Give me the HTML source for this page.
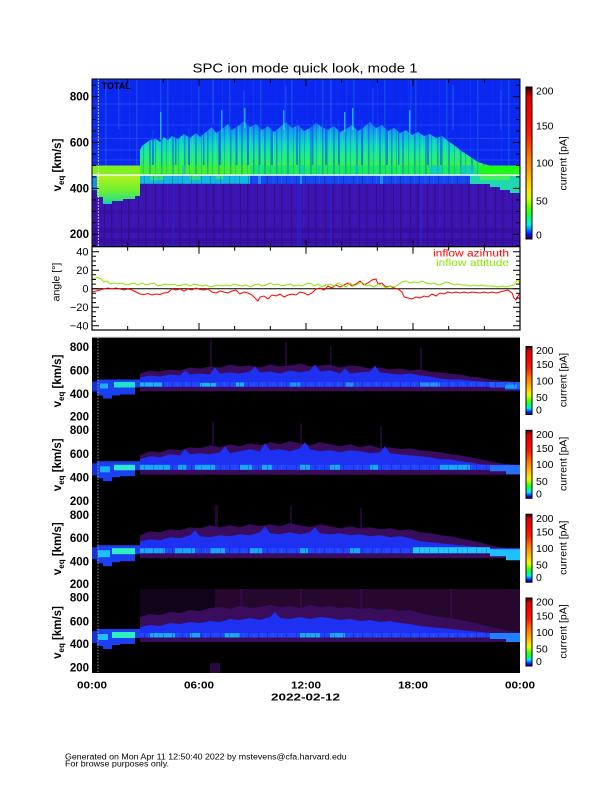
<!DOCTYPE html>
<html><head><meta charset="utf-8">
<style>
html,body{margin:0;padding:0;background:#fff;}
svg{display:block;}
text{font-family:"Liberation Sans",Arial,sans-serif;}
</style></head><body>
<svg width="612" height="792" viewBox="0 0 612 792" xmlns="http://www.w3.org/2000/svg">
<defs>
<linearGradient id="cb" x1="0" y1="1" x2="0" y2="0">
 <stop offset="0" stop-color="#000"/>
 <stop offset="0.012" stop-color="#30009a"/>
 <stop offset="0.03" stop-color="#0010ff"/>
 <stop offset="0.065" stop-color="#0090ff"/>
 <stop offset="0.095" stop-color="#00f0f0"/>
 <stop offset="0.14" stop-color="#00ff70"/>
 <stop offset="0.2" stop-color="#50ff00"/>
 <stop offset="0.27" stop-color="#d8ff00"/>
 <stop offset="0.33" stop-color="#ffe000"/>
 <stop offset="0.45" stop-color="#ffa000"/>
 <stop offset="0.55" stop-color="#ff7000"/>
 <stop offset="0.68" stop-color="#ff2000"/>
 <stop offset="0.8" stop-color="#ff0000"/>
 <stop offset="0.93" stop-color="#e00000"/>
 <stop offset="0.98" stop-color="#700000"/>
 <stop offset="1" stop-color="#000"/>
</linearGradient>
<linearGradient id="mid" gradientUnits="userSpaceOnUse" x1="0" y1="118" x2="0" y2="166">
 <stop offset="0" stop-color="#1868f0"/>
 <stop offset="0.3" stop-color="#10a8e8"/>
 <stop offset="0.55" stop-color="#10d8c0"/>
 <stop offset="0.8" stop-color="#20ee80"/>
 <stop offset="1" stop-color="#30f050"/>
</linearGradient>
<linearGradient id="lowleft" gradientUnits="userSpaceOnUse" x1="0" y1="175" x2="0" y2="205">
 <stop offset="0" stop-color="#b8f020"/>
 <stop offset="0.5" stop-color="#70f030"/>
 <stop offset="0.85" stop-color="#30e080"/>
 <stop offset="1" stop-color="#10c0e0"/>
</linearGradient>
<pattern id="st1" patternUnits="userSpaceOnUse" x="0" y="0" width="23" height="10">
 <rect x="0" y="0" width="1.5" height="10" fill="#1040f0" opacity="0.45"/>
 <rect x="5" y="0" width="1" height="10" fill="#1040f0" opacity="0.3"/>
 <rect x="8" y="0" width="1" height="10" fill="#40f0b0" opacity="0.35"/>
 <rect x="11" y="0" width="2" height="10" fill="#1040f0" opacity="0.4"/>
 <rect x="17" y="0" width="1" height="10" fill="#1040f0" opacity="0.3"/>
 <rect x="20" y="0" width="1" height="10" fill="#40f0b0" opacity="0.3"/>
</pattern>
<pattern id="st2" patternUnits="userSpaceOnUse" x="3" y="0" width="31" height="10">
 <rect x="2" y="0" width="1" height="10" fill="#2060ff" opacity="0.35"/>
 <rect x="9" y="0" width="1.5" height="10" fill="#50ffa0" opacity="0.25"/>
 <rect x="15" y="0" width="1" height="10" fill="#1030e0" opacity="0.4"/>
 <rect x="24" y="0" width="2" height="10" fill="#1040f0" opacity="0.3"/>
</pattern>
<pattern id="st3" patternUnits="userSpaceOnUse" x="0" y="0" width="19" height="10">
 <rect x="1" y="0" width="1" height="10" fill="#000" opacity="0.35"/>
 <rect x="6" y="0" width="1.5" height="10" fill="#4060ff" opacity="0.3"/>
 <rect x="11" y="0" width="1" height="10" fill="#000" opacity="0.3"/>
 <rect x="15" y="0" width="1" height="10" fill="#30a0ff" opacity="0.3"/>
</pattern>
<pattern id="st4" patternUnits="userSpaceOnUse" x="0" y="0" width="17" height="10">
 <rect x="2" y="0" width="1" height="10" fill="#2a0a50" opacity="0.5"/>
 <rect x="9" y="0" width="1.5" height="10" fill="#2a0a50" opacity="0.4"/>
 <rect x="14" y="0" width="1" height="10" fill="#5020a0" opacity="0.3"/>
</pattern>
<clipPath id="ctop"><rect x="92" y="79" width="428" height="167.7"/></clipPath>
<clipPath id="cbot"><rect x="92" y="337.5" width="428" height="335.5"/></clipPath>
</defs>

<!-- Title -->
<text x="305" y="72.7" font-size="12.5" text-anchor="middle" textLength="225" lengthAdjust="spacingAndGlyphs">SPC ion mode quick look, mode 1</text>

<!-- ===== TOP PANEL ===== -->
<g clip-path="url(#ctop)">
 <rect x="92" y="79" width="428" height="168" fill="#3c14b4"/>
 <rect x="92" y="184" width="428" height="63" fill="url(#st4)"/>
 <rect x="92" y="228" width="428" height="5" fill="#320c98" opacity="0.6"/>
 <rect x="92" y="238" width="428" height="5" fill="#320c98" opacity="0.6"/>
 <rect x="92" y="210" width="428" height="4" fill="#340e9e" opacity="0.5"/>
 <rect x="92" y="79" width="428" height="104.8" fill="#0a28f0"/>
 <rect x="92" y="79" width="428" height="104.8" fill="url(#st2)" opacity="0.6"/>
 <g fill="#2a60ff" opacity="0.45">
  <rect x="118" y="79" width="1.5" height="50"/><rect x="160" y="79" width="1.5" height="60"/>
  <rect x="212" y="79" width="2" height="45"/><rect x="243" y="90" width="1.5" height="40"/>
  <rect x="285" y="85" width="1.5" height="45"/><rect x="330" y="79" width="2" height="50"/>
  <rect x="372" y="88" width="1.5" height="40"/><rect x="410" y="80" width="1.5" height="50"/>
  <rect x="452" y="85" width="2" height="45"/><rect x="500" y="90" width="1.5" height="40"/>
 </g>
 <g stroke="#4a7cff" stroke-width="0.8" opacity="0.45">
  <line x1="92" y1="104" x2="520" y2="104"/><line x1="92" y1="125" x2="520" y2="125"/>
  <line x1="92" y1="138.3" x2="520" y2="138.3"/><line x1="92" y1="150" x2="520" y2="150"/>
  <line x1="92" y1="160" x2="520" y2="160"/>
 </g>
 <polygon fill="url(#mid)" points="140,150 142,146 146,143 150,140 156,139 160,142 164,137 168,140 172,136 178,139 184,134 190,138 196,133 200,137 206,132 212,127 216,133 222,129 228,124 232,130 238,126 244,121 250,127 256,124 262,130 268,126 274,132 280,127 286,122 292,128 298,125 304,131 310,128 316,123 322,127 328,130 334,126 340,132 346,129 352,125 358,131 364,127 370,122 376,128 382,125 388,131 394,128 400,133 406,130 412,135 418,132 424,136 430,134 436,138 442,136 448,141 454,145 460,150 466,154 472,158 478,162 484,164 490,165.5 140,165.5"/>
 <polygon fill="url(#st1)" points="140,150 142,146 146,143 150,140 156,139 160,142 164,137 168,140 172,136 178,139 184,134 190,138 196,133 200,137 206,132 212,127 216,133 222,129 228,124 232,130 238,126 244,121 250,127 256,124 262,130 268,126 274,132 280,127 286,122 292,128 298,125 304,131 310,128 316,123 322,127 328,130 334,126 340,132 346,129 352,125 358,131 364,127 370,122 376,128 382,125 388,131 394,128 400,133 406,130 412,135 418,132 424,136 430,134 436,138 442,136 448,141 454,145 460,150 466,154 472,158 478,162 484,164 490,165.5 140,165.5"/>
 <g fill="#1040f0" opacity="0.55">
  <rect x="152" y="130" width="2" height="35"/><rect x="175" y="130" width="1.5" height="35"/>
  <rect x="188" y="128" width="2" height="37"/><rect x="203" y="125" width="1.5" height="40"/>
  <rect x="219" y="120" width="2" height="45"/><rect x="236" y="120" width="1.5" height="45"/>
  <rect x="247" y="120" width="2" height="45"/><rect x="259" y="120" width="1.5" height="45"/>
  <rect x="271" y="122" width="2" height="43"/><rect x="296" y="120" width="2" height="45"/>
  <rect x="312" y="120" width="1.5" height="45"/><rect x="325" y="120" width="2" height="45"/>
  <rect x="338" y="120" width="1.5" height="45"/><rect x="361" y="120" width="2" height="45"/>
  <rect x="386" y="124" width="2" height="41"/><rect x="398" y="126" width="1.5" height="39"/>
  <rect x="427" y="130" width="2" height="35"/><rect x="440" y="133" width="2" height="32"/>
 </g>
 <g fill="#30d8f0" opacity="0.7">
  <rect x="160" y="112" width="1.5" height="28"/><rect x="221" y="110" width="1.5" height="22"/>
  <rect x="244" y="108" width="1.5" height="20"/><rect x="283" y="110" width="1.5" height="20"/>
  <rect x="344" y="112" width="1.5" height="20"/><rect x="352" y="108" width="1.5" height="22"/>
  <rect x="409" y="110" width="1.5" height="25"/>
 </g>
 <rect x="92" y="165.5" width="48" height="9.6" fill="#80f020"/>
 <rect x="140" y="165.5" width="110" height="9.6" fill="#40f030"/>
 <rect x="250" y="165.5" width="230" height="9.6" fill="#18e860"/>
 <rect x="480" y="165.5" width="40" height="9.6" fill="#20f818"/>
 <rect x="140" y="165.5" width="340" height="9.6" fill="url(#st1)" opacity="0.7"/>
 <g fill="#10c0e8" opacity="0.6">
  <rect x="182" y="165.5" width="3" height="9.6"/><rect x="258" y="165.5" width="2" height="9.6"/>
  <rect x="301" y="165.5" width="3" height="9.6"/><rect x="318" y="165.5" width="2" height="9.6"/>
  <rect x="355" y="165.5" width="3" height="9.6"/><rect x="430" y="165.5" width="12" height="9.6"/>
  <rect x="460" y="165.5" width="14" height="9.6"/>
 </g>
 <rect x="92" y="175.1" width="5" height="15" fill="#1890f0"/>
 <polygon fill="url(#lowleft)" points="97,175.1 140,175.1 140,196 135,196 135,199 123,199 123,201 112,201 112,204 103,204 103,197 97,197"/>
 <rect x="140" y="175.1" width="110" height="8.7" fill="#10b8e0"/>
 <g fill="#40e860" opacity="0.7"><rect x="150" y="175.1" width="14" height="5"/><rect x="190" y="175.1" width="10" height="5"/><rect x="215" y="175.1" width="8" height="4"/></g>
 <rect x="250" y="175.1" width="230" height="8.7" fill="#1448f0"/>
 <rect x="140" y="175.1" width="340" height="8.7" fill="url(#st3)" opacity="0.6"/>
 <g fill="#20b0f0" opacity="0.7"><rect x="258" y="175.1" width="3" height="8.7"/><rect x="300" y="175.1" width="2" height="8.7"/><rect x="380" y="175.1" width="3" height="8.7"/></g>
 <polygon fill="#20d8b0" points="470,175.1 520,175.1 520,193 510,193 510,190 500,190 500,187 490,187 490,184 470,184"/>
 <rect x="480" y="175.1" width="30" height="5" fill="#40f060"/>
 <g fill="#2030e0" opacity="0.45">
  <rect x="297" y="184" width="4" height="63"/><rect x="330" y="184" width="2" height="63"/>
  <rect x="172" y="184" width="2" height="63"/><rect x="420" y="184" width="2" height="63"/>
 </g>
 <line x1="92" y1="175.1" x2="520" y2="175.1" stroke="#fff" stroke-width="1.4"/>
 <line x1="98.3" y1="79" x2="98.3" y2="247" stroke="#fff" stroke-width="0.8" stroke-dasharray="2,1" opacity="0.85"/>
 <text x="101.7" y="89" font-size="9.5" font-weight="bold" fill="#000" textLength="29" lengthAdjust="spacingAndGlyphs">TOTAL</text>
</g>
<rect x="92" y="79" width="428" height="167.7" fill="none" stroke="#000" stroke-width="1"/>
<g stroke="#000" stroke-width="1" fill="none">
 <path d="M92 234.3h7M92 188.4h7M92 142.5h7M92 96.6h7M520 234.3h-7M520 188.4h-7M520 142.5h-7M520 96.6h-7"/>
 <path d="M92 245.8h4M92 222.8h4M92 211.35h4M92 199.9h4M92 176.9h4M92 165.45h4M92 154h4M92 131h4M92 119.55h4M92 108.1h4M92 85.1h4M520 245.8h-4M520 222.8h-4M520 211.35h-4M520 199.9h-4M520 176.9h-4M520 165.45h-4M520 154h-4M520 131h-4M520 119.55h-4M520 108.1h-4M520 85.1h-4"/>
 <path d="M199 79v7M306 79v7M413 79v7M127.67 79v4M163.33 79v4M234.67 79v4M270.33 79v4M341.67 79v4M377.33 79v4M448.67 79v4M484.33 79v4"/>
 <path d="M199 246.7v-7M306 246.7v-7M413 246.7v-7M127.67 246.7v-4M163.33 246.7v-4M234.67 246.7v-4M270.33 246.7v-4M341.67 246.7v-4M377.33 246.7v-4M448.67 246.7v-4M484.33 246.7v-4"/>
</g>
<g font-size="11.5" font-weight="bold" text-anchor="end">
 <text x="89" y="100.4">800</text><text x="89" y="146.4">600</text><text x="89" y="192.3">400</text><text x="89" y="238.2">200</text>
</g>
<text transform="translate(61,165) rotate(-90)" font-size="11.5" font-weight="bold" text-anchor="middle">v<tspan font-size="8" dy="3">eq</tspan><tspan dy="-3"> [km/s]</tspan></text>
<rect x="526" y="87" width="6" height="152" fill="url(#cb)" stroke="#000" stroke-width="1"/>
<g font-size="10.5">
 <text x="536" y="94.3">200</text><text x="536" y="129.3">150</text><text x="536" y="166.7">100</text><text x="536" y="204.3">50</text><text x="536" y="238.3">0</text>
</g>
<text transform="translate(566.7,163.3) rotate(-90)" font-size="10.5" text-anchor="middle">current [pA]</text>

<!-- ===== ANGLE PANEL ===== -->
<rect x="92" y="246.7" width="428" height="83.3" fill="#fff"/>
<line x1="92" y1="288.7" x2="520" y2="288.7" stroke="#000" stroke-width="1"/>
<polyline fill="none" stroke="#ff0000" stroke-width="1" points="92,292 96,291 100,290 104,289 108,288 112,289 116,288 120,289 124,290 128,289 132,290 136,292 140,294 144,294.5 148,293.5 152,295 156,294 160,294.5 164,293 168,292.5 172,289 176,290 180,289 184,291 188,289 192,290 196,288 200,289.5 204,290 208,289 212,292 216,293 220,291 224,292 228,293 232,291 236,290 240,294 244,292 248,293 252,295 256,299 258,301 260,297 264,296 268,299 272,295 276,296 280,294 284,297 288,295 292,294 296,295 300,292 304,293 308,295 312,293 316,289 320,288 324,290 328,286 332,288 336,285 340,287 344,285 348,283 352,286 356,284 360,281 364,285 368,283 372,280 376,279 378,284 382,283 386,287 390,286 394,288 398,289 402,292 404,297 408,298 412,299 416,297 420,298 424,296 428,297 432,294 436,296 440,293 444,294 448,292 452,293 456,292 460,293 464,292 468,293 472,292 476,292.5 480,293 484,292 488,293 492,292 496,293 500,292 504,291 508,290 512,293 514,298 516,300 518,296 520,293"/>
<polyline fill="none" stroke="#88e800" stroke-width="1" points="92,279 95,278 98,277.5 101,279 104,282 107,281 110,284 114,283 118,284 122,283 126,285 130,284 134,283 138,285 142,283 146,285 150,284 154,283 158,286 162,285 166,284 170,285 174,284 178,286 182,285 186,284 190,286 194,284 198,285 202,286 206,285 210,287 214,286 218,285 222,286 226,285 230,286 234,284 238,285 242,286 246,285 250,287 254,285 258,284 262,286 266,285 270,283 274,285 278,284 282,286 286,285 290,284 294,286 298,285 302,286 306,284 310,283 314,286 318,284 322,287 326,285 330,284 334,286 338,283 342,285 346,287 350,283 354,286 358,284 362,282 366,286 370,285 374,287 378,284 382,285 386,288 390,286 394,287 398,285 402,282 406,281 410,283 414,282 418,283 422,281 426,283 430,284 434,283 438,285 442,284 446,282 450,283 454,285 458,284 462,285 466,285 470,286 474,285 478,286 482,285 486,286 490,286 494,286 498,287 502,286 506,287 510,286 514,285 516,282 518,279 520,285"/>
<rect x="92" y="246.7" width="428" height="83.3" fill="none" stroke="#000" stroke-width="1.2"/>
<g stroke="#000" stroke-width="1" fill="none">
 <path d="M92 251.7h7M92 270.2h7M92 288.7h7M92 307.2h7M92 325.7h7M520 251.7h-7M520 270.2h-7M520 288.7h-7M520 307.2h-7M520 325.7h-7"/>
 <path d="M92 256.3h4M92 260.95h4M92 265.6h4M92 274.8h4M92 279.45h4M92 284.1h4M92 293.3h4M92 297.95h4M92 302.6h4M92 311.8h4M92 316.45h4M92 321.1h4M520 256.3h-4M520 260.95h-4M520 265.6h-4M520 274.8h-4M520 279.45h-4M520 284.1h-4M520 293.3h-4M520 297.95h-4M520 302.6h-4M520 311.8h-4M520 316.45h-4M520 321.1h-4"/>
 <path d="M199 330v-7M306 330v-7M413 330v-7M127.67 330v-4M163.33 330v-4M234.67 330v-4M270.33 330v-4M341.67 330v-4M377.33 330v-4M448.67 330v-4M484.33 330v-4"/>
 <path d="M199 246.7v7M306 246.7v7M413 246.7v7M127.67 246.7v4M163.33 246.7v4M234.67 246.7v4M270.33 246.7v4M341.67 246.7v4M377.33 246.7v4M448.67 246.7v4M484.33 246.7v4"/>
</g>
<g font-size="11" text-anchor="end">
 <text x="88.5" y="255.5">40</text><text x="88.5" y="274">20</text><text x="88.5" y="292.5">0</text><text x="88.5" y="311">−20</text><text x="88.5" y="329.5">−40</text>
</g>
<text transform="translate(59.5,282) rotate(-90)" font-size="10.5" text-anchor="middle">angle [°]</text>
<text x="509" y="256.7" font-size="10.5" text-anchor="end" fill="#ff0000" textLength="76" lengthAdjust="spacingAndGlyphs">inflow azimuth</text>
<text x="509" y="266" font-size="10.5" text-anchor="end" fill="#88e800" textLength="73" lengthAdjust="spacingAndGlyphs">inflow attitude</text>

<!-- ===== BOTTOM PANELS ===== -->
<g clip-path="url(#cbot)">
 <rect x="92" y="337.5" width="428" height="335.5" fill="#000"/>

 <!-- Panel 1 -->
 <g transform="translate(0,337.5)">
  <g fill="#2a0840" opacity="0.8"><rect x="210" y="2" width="2" height="28"/><rect x="285" y="5" width="2" height="25"/><rect x="330" y="8" width="1.5" height="22"/><rect x="420" y="10" width="2" height="24"/></g>
  <polygon fill="#3a0c5c" points="140,53.7 140,36 150,33 160,34 170,32 180,33 190,30 200,31 210,29 220,30 230,27 240,29 250,28 260,30 270,27 280,29 290,28 300,26 310,29 320,28 330,27 340,30 350,28 360,29 370,31 380,30 390,32 400,31 410,33 420,32 430,34 440,35 450,36 460,37 470,39 480,40 490,42 500,43 510,44 520,45 520,53.7"/>
  <polygon fill="#1e30f0" points="140,49.3 140,40 150,38 160,39 170,37 180,38 185,33 190,37 200,36 210,37 215,30 220,36 230,35 240,36 250,34 255,29 260,35 270,34 280,36 290,33 300,35 310,33 315,27 320,34 330,33 340,36 345,31 350,36 360,35 370,34 375,28 380,35 390,36 400,37 410,36 420,38 430,39 440,41 450,42 460,42 470,43 480,44 490,44.5 520,44.5 520,49.3"/>
  <rect x="140" y="44.5" width="350" height="4.8" fill="#2044ff"/>
  <polygon fill="#2258ff" points="490,44.5 520,44.5 520,52 505,52 505,50 490,50"/>
  <g fill="#18c8ff" opacity="0.85"><rect x="140" y="45" width="22" height="4"/><rect x="200" y="45.5" width="16" height="3.5"/><rect x="236" y="45" width="8" height="4"/><rect x="346" y="45" width="8" height="4" opacity="0.7"/><rect x="505" y="47" width="12" height="4" opacity="0.7"/></g>
  <g fill="#2090ff"><rect x="290" y="45" width="10" height="4"/><rect x="420" y="45" width="20" height="4"/></g>
  <rect x="140" y="44.5" width="380" height="4.8" fill="url(#st3)" opacity="0.7"/>
  <rect x="92" y="44" width="5" height="10" fill="#1530d0"/>
  <polygon fill="#1a40f0" points="97,42 140,42 140,50 135,50 135,57 120,57 120,58 112,58 112,61 103,61 103,58 97,58"/>
  <rect x="114" y="44.5" width="21" height="5.5" fill="#20e0d0"/>
  <rect x="100" y="46" width="8" height="5" fill="#20b0ff"/>
 </g>

 <!-- Panel 2 -->
 <g transform="translate(0,421.3)">
  <g fill="#2a0840" opacity="0.8"><rect x="212" y="0" width="2" height="24"/><rect x="300" y="2" width="2" height="22"/><rect x="380" y="5" width="2" height="22"/></g>
  <polygon fill="#3a0c5c" points="140,53.5 140,34 150,30 160,31 170,28 180,29 190,26 200,27 210,24 220,26 230,23 240,25 250,22 260,24 270,21 280,23 290,20 300,22 310,24 320,21 330,23 340,25 350,23 360,26 370,24 380,27 390,26 400,28 410,27 420,29 430,30 440,31 450,33 460,34 470,36 480,38 490,40 500,42 510,43 520,44 520,53.5"/>
  <polygon fill="#1e30f0" points="140,48.5 140,38 150,35 160,36 170,33 180,34 185,28 190,33 200,32 210,33 220,31 225,25 230,32 240,30 250,28 260,30 265,22 270,29 280,28 290,30 300,27 305,21 310,28 320,30 330,29 340,31 350,29 360,30 370,32 380,31 385,25 390,32 400,33 410,34 420,35 430,36 440,38 450,38 460,40 470,41 480,43 490,44 520,44 520,48.5"/>
  <rect x="140" y="43.5" width="380" height="5" fill="#2044ff"/>
  <g fill="#18c8ff" opacity="0.75"><rect x="140" y="43.5" width="30" height="5"/><rect x="178" y="43.5" width="8" height="5"/><rect x="195" y="43.5" width="20" height="5"/><rect x="240" y="43.5" width="12" height="5"/><rect x="262" y="43.5" width="10" height="5"/><rect x="300" y="43.5" width="10" height="5"/><rect x="330" y="43.5" width="10" height="5"/><rect x="370" y="43.5" width="8" height="5"/><rect x="440" y="43.5" width="30" height="5"/></g>
  <rect x="140" y="43.5" width="380" height="5" fill="url(#st3)" opacity="0.7"/>
  <polygon fill="#2a70ff" points="490,44 520,44 520,53 506,53 506,50 490,50"/>
  <rect x="92" y="42" width="5" height="12" fill="#1530d0"/>
  <polygon fill="#1a40f0" points="97,40 140,40 140,49 135,49 135,55 120,55 120,56 112,56 112,60 103,60 103,57 97,57"/>
  <rect x="114" y="43.5" width="21" height="5.5" fill="#30e8d0"/>
  <rect x="100" y="45" width="10" height="6" fill="#18b0ff"/>
 </g>

 <!-- Panel 3 -->
 <g transform="translate(0,505.2)">
  <g fill="#2a0840" opacity="0.8"><rect x="215" y="0" width="3" height="22"/><rect x="290" y="0" width="2" height="20"/><rect x="360" y="3" width="2" height="20"/></g>
  <polygon fill="#3a0c5c" points="140,53 140,30 150,26 160,27 170,24 180,25 190,22 200,23 210,20 220,22 230,20 240,22 250,19 260,21 270,19 280,21 290,18 300,20 310,22 320,19 330,21 340,23 350,21 360,23 370,22 380,24 390,23 400,25 410,24 420,27 430,28 440,30 450,31 460,33 470,35 480,37 490,40 500,42 510,43 520,44 520,53"/>
  <polygon fill="#1e30f0" points="140,48 140,36 150,34 160,35 170,32 180,33 190,30 195,25 200,31 210,32 220,30 230,31 240,29 250,30 260,27 265,21 270,28 280,29 290,27 300,29 310,27 315,22 320,28 330,29 340,28 350,30 360,29 370,31 380,30 390,32 400,31 410,33 420,36 430,37 440,38 450,39 460,40 470,41 480,42 490,44 520,44 520,48"/>
  <rect x="140" y="43" width="380" height="5" fill="#2044ff"/>
  <g fill="#18c8ff" opacity="0.75"><rect x="140" y="43" width="25" height="5"/><rect x="175" y="43" width="20" height="5"/><rect x="210" y="43" width="15" height="5"/><rect x="250" y="43" width="12" height="5"/><rect x="300" y="43" width="8" height="5"/><rect x="350" y="43" width="10" height="5"/></g>
  <rect x="413" y="42" width="77" height="6" fill="#20c8ff"/>
  <rect x="140" y="43" width="380" height="5" fill="url(#st3)" opacity="0.7"/>
  <polygon fill="#20c0ff" points="490,44 520,44 520,55 506,55 506,51 490,51"/>
  <rect x="92" y="42" width="5" height="12" fill="#1530d0"/>
  <polygon fill="#1a40f0" points="97,40 140,40 140,49 135,49 135,56 120,56 120,57 112,57 112,61 103,61 103,58 97,58"/>
  <rect x="112" y="43" width="23" height="6" fill="#30f0c0"/>
  <rect x="98" y="45" width="12" height="7" fill="#20c0ff"/>
 </g>

 <!-- Panel 4 -->
 <g transform="translate(0,589)">
  <rect x="215" y="0" width="305" height="44" fill="#26082e"/>
  <rect x="140" y="0" width="75" height="28" fill="#10031a"/>
  <g fill="#3a0c50" opacity="0.6"><rect x="240" y="0" width="3" height="30"/><rect x="300" y="0" width="2" height="30"/><rect x="360" y="0" width="3" height="30"/><rect x="450" y="0" width="2" height="30"/></g>
  <polygon fill="#3a0c5c" points="140,53 140,28 150,25 160,26 170,23 180,24 190,21 200,22 210,19 220,18 230,20 240,17 250,19 260,18 270,16 280,18 290,17 300,19 310,16 320,18 330,17 340,19 350,18 360,20 370,19 380,21 390,20 400,22 410,21 420,24 430,26 440,28 450,29 460,31 470,33 480,35 490,38 500,40 510,42 520,43 520,53"/>
  <polygon fill="#1e30f0" points="140,48.5 140,38 150,36 160,37 170,34 180,35 190,33 200,34 210,32 220,33 230,30 240,31 250,29 260,31 270,28 275,23 280,29 290,30 300,28 310,30 320,28 330,29 340,31 350,30 360,32 370,31 380,33 390,32 400,34 410,35 420,37 430,38 440,39 450,40 460,41 470,42 480,43 490,44 520,44 520,48.5"/>
  <rect x="140" y="44" width="380" height="4.5" fill="#2044ff"/>
  <g fill="#18c8ff" opacity="0.75"><rect x="150" y="44" width="25" height="4.5"/><rect x="190" y="44" width="10" height="4.5"/><rect x="225" y="44" width="15" height="4.5"/><rect x="300" y="44" width="20" height="4.5"/><rect x="330" y="44" width="15" height="4.5"/></g>
  <rect x="140" y="44" width="380" height="4.5" fill="url(#st3)" opacity="0.7"/>
  <polygon fill="#2080ff" points="490,44 520,44 520,53 506,53 506,50 490,50"/>
  <rect x="92" y="42" width="5" height="12" fill="#1530d0"/>
  <polygon fill="#1a40f0" points="97,40 140,40 140,49 135,49 135,55 120,55 120,56 112,56 112,60 103,60 103,57 97,57"/>
  <rect x="112" y="43" width="23" height="6" fill="#30f0c0"/>
  <rect x="98" y="45" width="10" height="6" fill="#20c0ff"/>
  <rect x="210" y="74" width="10" height="10" fill="#3a0c5c" opacity="0.7"/>
 </g>
 <line x1="98" y1="337.5" x2="98" y2="673" stroke="#aaa" stroke-width="0.8" stroke-dasharray="1.5,1.5"/>
</g>
<line x1="92" y1="337.3" x2="520" y2="337.3" stroke="#bbb" stroke-width="1"/>

<g font-size="11.5" font-weight="bold" text-anchor="end">
 <text x="89" y="351.2">800</text><text x="89" y="374.6">600</text><text x="89" y="397.9">400</text><text x="89" y="420.6">200</text>
 <text x="89" y="433.9">800</text><text x="89" y="458.2">600</text><text x="89" y="481.6">400</text><text x="89" y="504.9">200</text>
 <text x="89" y="518.9">800</text><text x="89" y="542.2">600</text><text x="89" y="565.6">400</text><text x="89" y="588.2">200</text>
 <text x="89" y="601.6">800</text><text x="89" y="625.6">600</text><text x="89" y="648.2">400</text><text x="89" y="671.6">200</text>
</g>
<text transform="translate(61,381) rotate(-90)" font-size="11.5" font-weight="bold" text-anchor="middle">v<tspan font-size="8" dy="3">eq</tspan><tspan dy="-3"> [km/s]</tspan></text>
<text transform="translate(61,464.8) rotate(-90)" font-size="11.5" font-weight="bold" text-anchor="middle">v<tspan font-size="8" dy="3">eq</tspan><tspan dy="-3"> [km/s]</tspan></text>
<text transform="translate(61,548.7) rotate(-90)" font-size="11.5" font-weight="bold" text-anchor="middle">v<tspan font-size="8" dy="3">eq</tspan><tspan dy="-3"> [km/s]</tspan></text>
<text transform="translate(61,632.5) rotate(-90)" font-size="11.5" font-weight="bold" text-anchor="middle">v<tspan font-size="8" dy="3">eq</tspan><tspan dy="-3"> [km/s]</tspan></text>

<g>
 <rect x="526" y="346.5" width="6" height="68" fill="url(#cb)" stroke="#000" stroke-width="1"/>
 <rect x="526" y="430.3" width="6" height="68" fill="url(#cb)" stroke="#000" stroke-width="1"/>
 <rect x="526" y="514.2" width="6" height="68" fill="url(#cb)" stroke="#000" stroke-width="1"/>
 <rect x="526" y="598" width="6" height="68" fill="url(#cb)" stroke="#000" stroke-width="1"/>
</g>
<g font-size="10.5">
 <text x="536" y="354.2">200</text><text x="536" y="368">150</text><text x="536" y="384.3">100</text><text x="536" y="401">50</text><text x="536" y="413.5">0</text>
 <text x="536" y="438">200</text><text x="536" y="451.8">150</text><text x="536" y="468.1">100</text><text x="536" y="484.8">50</text><text x="536" y="497.3">0</text>
 <text x="536" y="521.9">200</text><text x="536" y="535.7">150</text><text x="536" y="552">100</text><text x="536" y="568.7">50</text><text x="536" y="581.2">0</text>
 <text x="536" y="605.7">200</text><text x="536" y="619.5">150</text><text x="536" y="635.8">100</text><text x="536" y="652.5">50</text><text x="536" y="665">0</text>
</g>
<g font-size="10.5" text-anchor="middle">
 <text transform="translate(566.7,380) rotate(-90)">current [pA]</text>
 <text transform="translate(566.7,463.8) rotate(-90)">current [pA]</text>
 <text transform="translate(566.7,547.7) rotate(-90)">current [pA]</text>
 <text transform="translate(566.7,631.5) rotate(-90)">current [pA]</text>
</g>

<g font-size="10.5" font-weight="bold" text-anchor="middle">
 <text x="92" y="688.5" textLength="30" lengthAdjust="spacingAndGlyphs">00:00</text>
 <text x="199" y="688.5" textLength="30" lengthAdjust="spacingAndGlyphs">06:00</text>
 <text x="306" y="688.5" textLength="30" lengthAdjust="spacingAndGlyphs">12:00</text>
 <text x="413" y="688.5" textLength="30" lengthAdjust="spacingAndGlyphs">18:00</text>
 <text x="520" y="688.5" textLength="30" lengthAdjust="spacingAndGlyphs">00:00</text>
 <text x="305.5" y="700.5" textLength="69" lengthAdjust="spacingAndGlyphs">2022-02-12</text>
</g>

<text x="65" y="759.3" font-size="8" textLength="281.7" lengthAdjust="spacingAndGlyphs">Generated on Mon Apr 11 12:50:40 2022 by mstevens@cfa.harvard.edu</text>
<text x="65" y="766.7" font-size="8" textLength="104" lengthAdjust="spacingAndGlyphs">For browse purposes only.</text>
</svg>
</body></html>
